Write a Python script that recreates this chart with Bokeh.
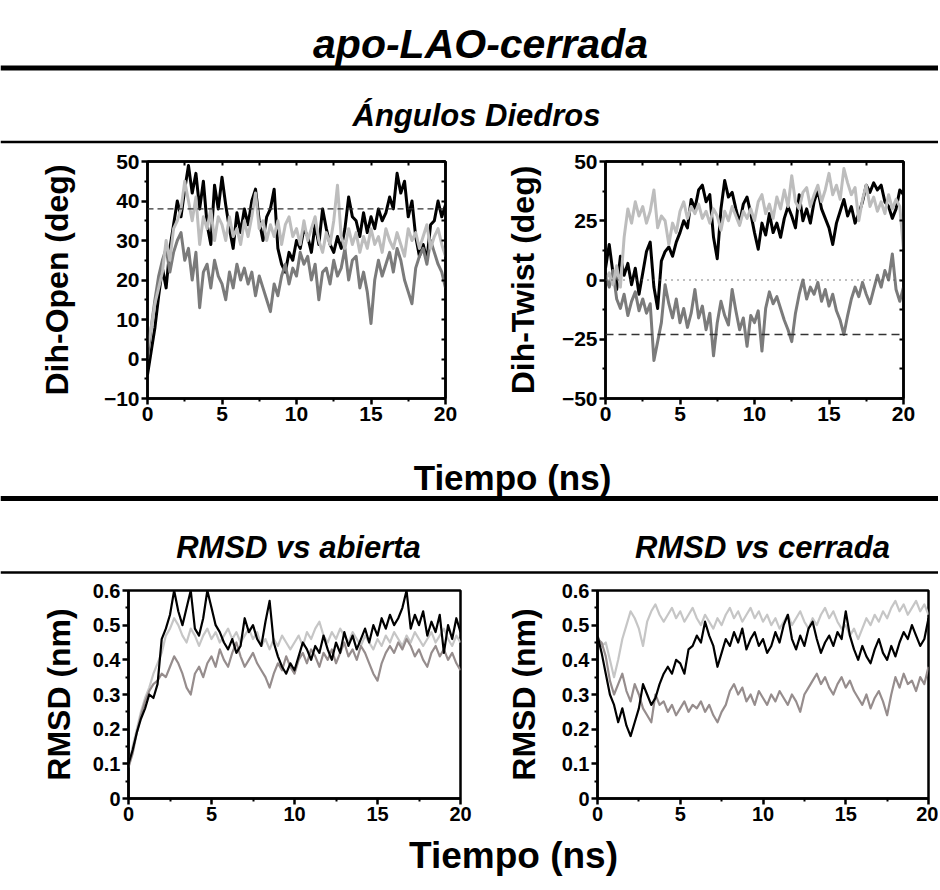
import numpy as np
from bokeh.plotting import figure
from bokeh.layouts import column, row
from bokeh.models import Range1d, Span, LinearAxis, FixedTicker
from bokeh.embed import file_html
from bokeh.resources import INLINE
from bokeh.core.properties import value

FONT = "Liberation Sans"

# ---------------- texts ----------------
main_title = "apo-LAO-cerrada"
dih_title = "Ángulos Diedros"
rmsd_titles = ["RMSD vs abierta", "RMSD vs cerrada"]
x_title = "Tiempo (ns)"
y_titles = ["Dih-Open (deg)", "Dih-Twist (deg)", "RMSD (nm)", "RMSD (nm)"]

# ---------------- ticks ----------------
x_ticks = [0, 5, 10, 15, 20]
x_minor = [2.5, 7.5, 12.5, 17.5]
open_ticks = [-10, 0, 10, 20, 30, 40, 50]
open_minor = [-5, 5, 15, 25, 35, 45]
twist_ticks = [-50, -25, 0, 25, 50]
twist_minor = [-37.5, -12.5, 12.5, 37.5]
rmsd_ticks = [0, 0.1, 0.2, 0.3, 0.4, 0.5, 0.6]
rmsd_tick_labels = ["0", "0.1", "0.2", "0.3", "0.4", "0.5", "0.6"]
rmsd_minor = [0.05, 0.15, 0.25, 0.35, 0.45, 0.55]

# reference levels
open_ref = 38
twist_ref_dot = 0
twist_ref_dash = -23

# ---------------- series (sampled every 0.25 ns, 0..20 ns) ----------------
open_black = [-4, 2, 8, 16, 23, 18, 28, 34, 40, 36,
              43, 49, 42, 47, 38, 45, 34, 29, 44, 38,
              46, 39, 33, 28, 37, 32, 38, 34, 40, 43,
              35, 30, 36, 38, 43, 28, 24, 22, 27, 25,
              30, 28, 33, 31, 27, 34, 29, 38, 33, 29,
              27, 31, 28, 33, 41, 36, 35, 31, 37, 32,
              36, 33, 38, 35, 37, 41, 38, 47, 42, 45,
              36, 40, 31, 26, 29, 25, 34, 35, 40, 36,
              39]
open_light = [3, 8, 14, 18, 22, 30, 25, 33, 35, 38,
              45, 40, 35, 41, 29, 36, 33, 38, 30, 36,
              34, 30, 36, 31, 33, 29, 35, 31, 36, 42,
              33, 35, 30, 34, 31, 35, 29, 34, 36, 31,
              33, 29, 35, 30, 33, 36, 30, 27, 32, 29,
              35, 44, 31, 28, 33, 29, 32, 27, 31, 28,
              33, 29, 31, 27, 33, 30, 28, 32, 29, 26,
              33, 30, 32, 28, 31, 34, 28, 31, 33, 29,
              26]
open_mid = [0, 8, 15, 21, 25, 28, 22, 27, 30, 32,
            25, 28, 20, 27, 13, 22, 24, 18, 25, 21,
            19, 15, 22, 18, 24, 20, 23, 19, 22, 16,
            21, 18, 15, 12, 19, 16, 21, 24, 19, 23,
            21, 27, 24, 26, 20, 24, 15, 22, 23, 19,
            25, 21, 23, 28, 20, 25, 26, 18, 22, 17,
            9, 20, 25, 21, 24, 27, 22, 28, 25, 20,
            17, 14, 23, 26, 28, 24, 30, 27, 24, 22,
            18]

twist_black = [5, 15, 3, -4, 10, 2, 7, -2, 5, -6,
               3, 12, 16, -3, -12, 8, 12, 14, 10, 16,
               20, 25, 22, 34, 30, 38, 40, 33, 36, 18,
               9, 30, 42, 35, 37, 30, 24, 32, 35, 28,
               20, 13, 24, 19, 28, 20, 24, 18, 26, 31,
               27, 22, 36, 25, 30, 24, 33, 38, 30, 26,
               22, 15, 24, 29, 34, 27, 31, 24, 28, 33,
               40, 37, 41, 38, 40, 33, 31, 26, 30, 38,
               36]
twist_light = [0, 3, -2, 6, -3, 18, 30, 24, 33, 27,
               31, 24, 29, 38, 22, 27, 25, 15, 24, 20,
               29, 33, 26, 31, 28, 32, 26, 29, 24, 30,
               27, 21, 29, 25, 31, 27, 23, 29, 26, 30,
               25, 33, 36, 28, 32, 26, 35, 30, 38, 31,
               44, 33, 30, 37, 39, 31, 36, 40, 33, 38,
               45, 36, 40, 34, 47, 41, 36, 39, 25, 34,
               40, 31, 35, 29, 33, 28, 36, 30, 34, 31,
               13]
twist_mid = [2, -3, 4, -8, -12, -6, -15, -9, -5, -13,
             -8, -14, -10, -34, -26, -18, -2, -10, -16, -8,
             -18, -12, -20, -14, -4, -16, -11, -21, -14, -32,
             -18, -9, -15, -19, -4, -13, -21, -16, -28, -15,
             -18, -13, -30, -12, -5, -10, -7, -12, -17, -21,
             -26, -14, -6, 0, -8, -3, -6, -1, -9, -4,
             -11, -6, -13, -17, -23, -15, -8, -3, -7, -1,
             -6, -10, -4, 2, -3, 4, 0, 11, -4, -9,
             -3]

abierta_black = [0.10, 0.14, 0.19, 0.23, 0.26, 0.30, 0.29, 0.33, 0.46, 0.49,
                 0.53, 0.60, 0.54, 0.50, 0.55, 0.60, 0.49, 0.47, 0.52, 0.60,
                 0.55, 0.50, 0.48, 0.45, 0.43, 0.46, 0.42, 0.44, 0.52, 0.48,
                 0.50, 0.46, 0.44, 0.51, 0.57, 0.45, 0.41, 0.38, 0.36, 0.39,
                 0.37, 0.41, 0.45, 0.43, 0.40, 0.44, 0.42, 0.47, 0.43, 0.40,
                 0.45, 0.42, 0.48, 0.44, 0.47, 0.43, 0.46, 0.49, 0.45, 0.50,
                 0.47, 0.52, 0.49, 0.53, 0.50, 0.52, 0.55, 0.60, 0.49, 0.53,
                 0.50, 0.54, 0.47, 0.51, 0.48, 0.53, 0.42, 0.50, 0.46, 0.52,
                 0.48]
abierta_light = [0.09, 0.15, 0.20, 0.25, 0.29, 0.32, 0.36, 0.39, 0.42, 0.47,
                 0.49, 0.52, 0.50, 0.47, 0.45, 0.49, 0.47, 0.44, 0.47, 0.49,
                 0.46, 0.48, 0.45, 0.47, 0.49, 0.46, 0.48, 0.45, 0.47, 0.49,
                 0.46, 0.48, 0.44, 0.46, 0.43, 0.46, 0.44, 0.47, 0.45, 0.43,
                 0.45, 0.47, 0.44, 0.48, 0.46, 0.49, 0.51, 0.47, 0.45, 0.48,
                 0.46, 0.49, 0.47, 0.45, 0.48, 0.46, 0.44, 0.47, 0.45, 0.43,
                 0.46, 0.44, 0.47, 0.45, 0.48, 0.46, 0.44, 0.47, 0.45, 0.48,
                 0.46, 0.44, 0.46, 0.48, 0.45, 0.47, 0.49, 0.46, 0.44, 0.47,
                 0.45]
abierta_mid = [0.09, 0.13, 0.19, 0.24, 0.28, 0.31, 0.33, 0.34, 0.36, 0.35,
               0.38, 0.41, 0.39, 0.36, 0.32, 0.30, 0.36, 0.38, 0.35, 0.39,
               0.41, 0.38, 0.43, 0.40, 0.38, 0.42, 0.45, 0.41, 0.38, 0.40,
               0.42, 0.39, 0.37, 0.35, 0.32, 0.36, 0.39, 0.37, 0.41, 0.38,
               0.36, 0.40, 0.42, 0.39, 0.43, 0.41, 0.38, 0.42, 0.40, 0.43,
               0.39, 0.42, 0.45, 0.41, 0.43, 0.40, 0.44, 0.42, 0.39, 0.36,
               0.34, 0.39, 0.42, 0.44, 0.42, 0.45, 0.43, 0.46, 0.44, 0.41,
               0.43, 0.40, 0.38, 0.42, 0.44, 0.41, 0.43, 0.40, 0.42, 0.39,
               0.37]

cerrada_black = [0.47, 0.42, 0.36, 0.30, 0.27, 0.22, 0.26, 0.21, 0.18, 0.22,
                 0.26, 0.33, 0.30, 0.27, 0.29, 0.33, 0.36, 0.38, 0.36, 0.40,
                 0.39, 0.36, 0.43, 0.44, 0.47, 0.45, 0.51, 0.47, 0.44, 0.38,
                 0.42, 0.46, 0.44, 0.48, 0.45, 0.49, 0.43, 0.46, 0.48, 0.44,
                 0.46, 0.42, 0.44, 0.48, 0.45, 0.50, 0.53, 0.46, 0.43, 0.47,
                 0.44, 0.49, 0.51, 0.46, 0.42, 0.45, 0.47, 0.44, 0.48, 0.46,
                 0.54, 0.47, 0.43, 0.40, 0.44, 0.41, 0.39, 0.43, 0.46, 0.42,
                 0.40, 0.44, 0.41, 0.45, 0.48, 0.46, 0.50, 0.47, 0.44, 0.46,
                 0.52]
cerrada_light = [0.47, 0.44, 0.45, 0.40, 0.35, 0.40, 0.46, 0.50, 0.54, 0.52,
                 0.49, 0.44, 0.51, 0.54, 0.56, 0.53, 0.51, 0.53, 0.55, 0.52,
                 0.54, 0.51, 0.53, 0.55, 0.52, 0.50, 0.53, 0.51, 0.49, 0.52,
                 0.50, 0.53, 0.55, 0.52, 0.54, 0.51, 0.53, 0.55, 0.52, 0.54,
                 0.51, 0.53, 0.50, 0.52, 0.49, 0.51, 0.53, 0.50, 0.52, 0.54,
                 0.51, 0.49, 0.52, 0.50, 0.53, 0.55, 0.52, 0.54, 0.51, 0.49,
                 0.50, 0.47, 0.49, 0.46, 0.49, 0.52, 0.50, 0.53, 0.51, 0.54,
                 0.52, 0.55, 0.57, 0.54, 0.56, 0.53, 0.55, 0.57, 0.54, 0.56,
                 0.53]
cerrada_mid = [0.46, 0.45, 0.41, 0.34, 0.30, 0.33, 0.36, 0.31, 0.28, 0.33,
               0.30, 0.26, 0.24, 0.22, 0.30, 0.27, 0.28, 0.25, 0.27, 0.24,
               0.26, 0.28, 0.25, 0.27, 0.26, 0.28, 0.25, 0.27, 0.24, 0.22,
               0.25, 0.27, 0.31, 0.33, 0.30, 0.32, 0.28, 0.30, 0.27, 0.31,
               0.29, 0.27, 0.30, 0.28, 0.31, 0.29, 0.27, 0.30, 0.28, 0.25,
               0.30, 0.32, 0.34, 0.36, 0.33, 0.35, 0.32, 0.30, 0.33, 0.35,
               0.32, 0.34, 0.31, 0.29, 0.27, 0.30, 0.26, 0.29, 0.31, 0.28,
               0.24, 0.30, 0.35, 0.32, 0.36, 0.33, 0.34, 0.31, 0.35, 0.33,
               0.38]

# ---------------- colours ----------------
BLACK = "#000000"
LIGHT_TOP = "#bdbdbd"
MID_TOP = "#7b7b7b"
LIGHT_BOT = "#c6c6c6"
MID_BOT = "#968d8d"

TOTAL_W = 938


def times(s):
    return np.linspace(0, 20, len(s))


def canvas(w, h):
    p = figure(width=w, height=h, x_range=Range1d(0, w), y_range=Range1d(h, 0),
               x_axis_type=None, y_axis_type=None, output_backend="svg",
               toolbar_location=None, min_border=0)
    p.min_border_left = 0
    p.min_border_right = 0
    p.min_border_top = 0
    p.min_border_bottom = 0
    p.outline_line_color = None
    return p


def txt(p, x, y, s, size, style, baseline="alphabetic"):
    p.text(x=[x], y=[y], text=[s], text_font=value(FONT), text_font_size=size,
           text_font_style=style, text_align="center", text_baseline=baseline,
           text_color="black")


def hline(p, y, w, lw):
    p.segment(x0=[0], y0=[y], x1=[w], y1=[y], line_color="black", line_width=lw)


def style_axis(ax, size):
    ax.axis_line_width = 2.5
    ax.axis_line_color = "black"
    ax.major_tick_line_width = 2.5
    ax.minor_tick_line_width = 2
    ax.major_tick_line_color = "black"
    ax.minor_tick_line_color = "black"
    ax.major_tick_out = 6
    ax.major_tick_in = 0
    ax.minor_tick_out = 3
    ax.minor_tick_in = 0
    ax.major_label_text_font = FONT
    ax.major_label_text_font_size = size
    ax.major_label_text_font_style = "bold"
    ax.major_label_text_color = "black"
    ax.major_label_standoff = 2


def panel(w, h, bl, br, bt, bb, yr, yticks, yminor, ylabel, lstand, mirror, tsize):
    p = figure(width=w, height=h, x_range=Range1d(0, 20), y_range=Range1d(*yr),
               output_backend="svg", toolbar_location=None,
               min_border_left=bl, min_border_right=br,
               min_border_top=bt, min_border_bottom=bb)
    p.grid.visible = False
    p.outline_line_color = "black"
    p.outline_line_width = 2.5
    p.xaxis.ticker = FixedTicker(ticks=x_ticks, minor_ticks=x_minor)
    p.yaxis.ticker = FixedTicker(ticks=yticks, minor_ticks=yminor)
    style_axis(p.xaxis[0], tsize)
    style_axis(p.yaxis[0], tsize)
    p.yaxis.axis_label = ylabel
    p.yaxis.axis_label_text_font = FONT
    p.yaxis.axis_label_text_font_size = "32px"
    p.yaxis.axis_label_text_font_style = "bold"
    p.yaxis.axis_label_text_color = "black"
    p.yaxis.axis_label_standoff = lstand
    if mirror:
        xm = sorted(x_ticks + x_minor)
        ym = sorted(yticks + yminor)
        for loc, tk in (("above", xm), ("right", ym)):
            ax = LinearAxis(ticker=FixedTicker(ticks=tk, minor_ticks=[]))
            ax.major_label_overrides = {t: "" for t in tk}
            ax.major_tick_in = 4
            ax.major_tick_out = 0
            ax.minor_tick_in = 0
            ax.minor_tick_out = 0
            ax.major_tick_line_width = 2
            ax.axis_line_width = 2.5
            ax.major_label_standoff = 0
            ax.major_label_text_font_size = "8px"
            p.add_layout(ax, loc)
    return p


# ---------------- header (page y 0..148) ----------------
head = canvas(TOTAL_W, 148)
txt(head, 480, 43, main_title, "41px", "bold italic")
hline(head, 67.5, TOTAL_W, 5)
txt(head, 476, 115, dih_title, "31px", "bold italic")
hline(head, 141.5, TOTAL_W, 2.5)

# ---------------- top row (page y 148..430) ----------------
p_open = panel(470, 282, 147, 25, 13, 32, (-10, 50), open_ticks, open_minor,
               y_titles[0], 26, True, "21px")
p_open.line(times(open_black), open_black, line_color=BLACK, line_width=3, line_join="round")
p_open.line(times(open_mid), open_mid, line_color=MID_TOP, line_width=3, line_join="round")
p_open.line(times(open_light), open_light, line_color=LIGHT_TOP, line_width=3, line_join="round")
p_open.add_layout(Span(location=open_ref, dimension="width", line_color="#333333",
                       line_width=1.3, line_dash="6 4"))

p_twist = panel(468, 282, 135, 35, 13, 32, (-50, 50), twist_ticks, twist_minor,
                y_titles[1], 18, True, "21px")
p_twist.line(times(twist_black), twist_black, line_color=BLACK, line_width=3, line_join="round")
p_twist.line(times(twist_mid), twist_mid, line_color=MID_TOP, line_width=3, line_join="round")
p_twist.line(times(twist_light), twist_light, line_color=LIGHT_TOP, line_width=3, line_join="round")
p_twist.add_layout(Span(location=twist_ref_dot, dimension="width", line_color="#555555",
                        line_width=1.5, line_dash="1 5"))
p_twist.add_layout(Span(location=twist_ref_dash, dimension="width", line_color="#333333",
                        line_width=1.3, line_dash="8 5"))

# ---------------- middle (page y 430..578) ----------------
mid = canvas(TOTAL_W, 148)
txt(mid, 512, 47, x_title, "35px", "bold")
hline(mid, 68, TOTAL_W, 5)
txt(mid, 298, 117, rmsd_titles[0], "31px", "bold italic")
txt(mid, 762, 117, rmsd_titles[1], "31px", "bold italic")
hline(mid, 142, TOTAL_W, 2.5)

# ---------------- bottom row (page y 578..828) ----------------
rmsd_over = {t: l for t, l in zip(rmsd_ticks, rmsd_tick_labels)}

p_ab = panel(475, 250, 128, 15, 12, 30, (0, 0.6), rmsd_ticks, rmsd_minor,
             y_titles[2], 13, False, "20px")
p_ab.yaxis.major_label_overrides = rmsd_over
p_ab.line(times(abierta_light), abierta_light, line_color=LIGHT_BOT, line_width=2.2, line_join="round")
p_ab.line(times(abierta_mid), abierta_mid, line_color=MID_BOT, line_width=2.2, line_join="round")
p_ab.line(times(abierta_black), abierta_black, line_color=BLACK, line_width=2.2, line_join="round")

p_ce = panel(463, 250, 122, 10, 12, 30, (0, 0.6), rmsd_ticks, rmsd_minor,
             y_titles[3], 17, False, "20px")
p_ce.yaxis.major_label_overrides = rmsd_over
p_ce.line(times(cerrada_light), cerrada_light, line_color=LIGHT_BOT, line_width=2.2, line_join="round")
p_ce.line(times(cerrada_mid), cerrada_mid, line_color=MID_BOT, line_width=2.2, line_join="round")
p_ce.line(times(cerrada_black), cerrada_black, line_color=BLACK, line_width=2.2, line_join="round")

# ---------------- footer (page y 828..887) ----------------
foot = canvas(TOTAL_W, 59)
txt(foot, 513, 27, x_title, "37px", "bold", baseline="middle")

layout = column(head, row(p_open, p_twist, spacing=0), mid,
                row(p_ab, p_ce, spacing=0), foot, spacing=0)

open("out.html", "w").write(file_html(layout, INLINE))
